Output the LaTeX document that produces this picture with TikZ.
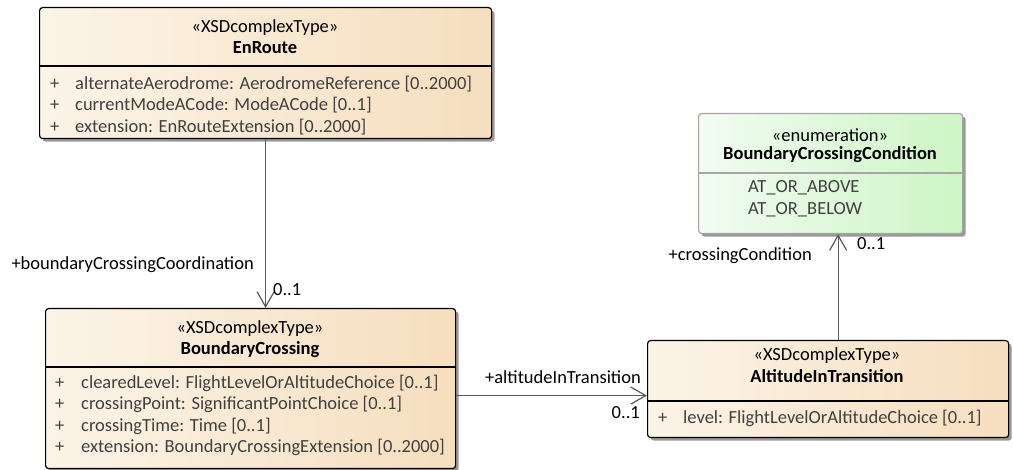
\documentclass[tikz,border=0pt]{standalone}
\usepackage{fontspec}
\setmainfont{Carlito}
\usetikzlibrary{arrows.meta,shadows,calc}

\definecolor{claseIzq}{RGB}{252,244,232}
\definecolor{claseDer}{RGB}{246,222,190}
\definecolor{enumIzq}{RGB}{242,252,242}
\definecolor{enumDer}{RGB}{205,245,197}
\definecolor{textoAttr}{RGB}{64,64,64}
\definecolor{linea}{RGB}{90,90,90}

\tikzset{
  clase/.style={draw=black, line width=1.2pt, rounded corners=3pt, left color=claseIzq, right color=claseDer,
    drop shadow={shadow xshift=3pt, shadow yshift=-3pt, fill=black!40, opacity=1}, anchor=north west, inner sep=0pt},
  enum/.style={clase, draw=black!35, left color=enumIzq, right color=enumDer},
  estereo/.style={font=\fontsize{18.5}{22}\selectfont, inner sep=0pt},
  nombre/.style={font=\fontsize{18.5}{22}\selectfont\bfseries, inner sep=0pt},
  attr/.style={font=\fontsize{18.5}{22}\selectfont, text=textoAttr, anchor=west, inner sep=0pt},
  rol/.style={font=\fontsize{18.5}{22}\selectfont, inner sep=0pt},
  asoc/.style={draw=linea, line width=1.2pt, -{Straight Barb[length=15pt,width=17pt]}},
}

\begin{document}
\begin{tikzpicture}[x=1pt, y=-1pt]
    \useasboundingbox (0,0) rectangle (1013,470);

    % 1. CAJAS DE LAS CLASES (fondo con degradado y sombra)
    \node[clase, minimum width=452pt, minimum height=131pt] (enRoute) at (39,7) {};
    \node[clase, minimum width=410pt, minimum height=160pt] (boundaryCrossing) at (45,308) {};
    \node[enum, minimum width=264pt, minimum height=120pt] (crossingCondition) at (698,113) {};
    \node[clase, minimum width=361pt, minimum height=97pt] (altitudeInTransition) at (647,340) {};

    % 2. LINEAS DE SEPARACION (cabecera / atributos)
    \draw[line width=1.2pt] (39,66) -- (491,66);
    \draw[line width=1.2pt] (45,367) -- (455,367);
    \draw[line width=1.2pt, black!35] (698,173) -- (962,173);
    \draw[line width=1.2pt] (647,401) -- (1008,401);

    % 3. CABECERAS
    \node[estereo] (enRouteEst) at (265,28) {«XSDcomplexType»};
    \node[nombre] (enRouteNom) at (265,48) {EnRoute};
    \node[estereo] (boundaryCrossingEst) at (250,329) {«XSDcomplexType»};
    \node[nombre] (boundaryCrossingNom) at (250,350) {BoundaryCrossing};
    \node[estereo] (crossingConditionEst) at (830,135) {«enumeration»};
    \node[nombre] (crossingConditionNom) at (830,155) {BoundaryCrossingCondition};
    \node[estereo] (altitudeInTransitionEst) at (827,356) {«XSDcomplexType»};
    \node[nombre] (altitudeInTransitionNom) at (827,376) {AltitudeInTransition};

    % 4. ATRIBUTOS
    \foreach \t [count=\i] in {alternateAerodrome: AerodromeReference [0..2000],
        currentModeACode: ModeACode [0..1], extension: EnRouteExtension [0..2000]} {
        \node[attr] (enRouteMas\i) at (50,{62.5+21.5*\i}) {+};
        \node[attr] (enRouteAttr\i) at (75,{62.5+21.5*\i}) {\t};
    }
    \foreach \t [count=\i] in {clearedLevel: FlightLevelOrAltitudeChoice [0..1],
        crossingPoint: SignificantPointChoice [0..1], crossingTime: Time [0..1],
        extension: BoundaryCrossingExtension [0..2000]} {
        \node[attr] (boundaryCrossingMas\i) at (55,{361.5+21.5*\i}) {+};
        \node[attr] (boundaryCrossingAttr\i) at (81,{361.5+21.5*\i}) {\t};
    }
    \foreach \t [count=\i] in {AT\_OR\_ABOVE, AT\_OR\_BELOW} {
        \node[attr] (crossingConditionLit\i) at (748,{166.5+21.5*\i}) {\t};
    }
    \node[attr] (altitudeInTransitionMas1) at (658,418) {+};
    \node[attr] (altitudeInTransitionAttr1) at (683,418) {level: FlightLevelOrAltitudeChoice [0..1]};

    % 5. ASOCIACIONES
    \draw[asoc] (enRoute.south) -- (enRoute.south |- boundaryCrossing.north);
    \draw[asoc] ([yshift=-7pt]boundaryCrossing.east) -- ([yshift=-7pt]boundaryCrossing.east -| altitudeInTransition.west);
    \draw[asoc] ([xshift=10pt]altitudeInTransition.north) -- ([xshift=10pt]altitudeInTransition.north |- crossingCondition.south);

    % 6. ROLES Y MULTIPLICIDADES
    \node[rol, anchor=east] (rolCoordination) at (254,265) {+boundaryCrossingCoordination};
    \node[rol, anchor=west] (multCoordination) at (273,290) {0..1};
    \node[rol, anchor=east] (rolTransition) at (641,377) {+altitudeInTransition};
    \node[rol, anchor=east] (multTransition) at (640,413) {0..1};
    \node[rol, anchor=east] (rolCondition) at (812,256) {+crossingCondition};
    \node[rol, anchor=west] (multCondition) at (857,244) {0..1};

\end{tikzpicture}
\end{document}
